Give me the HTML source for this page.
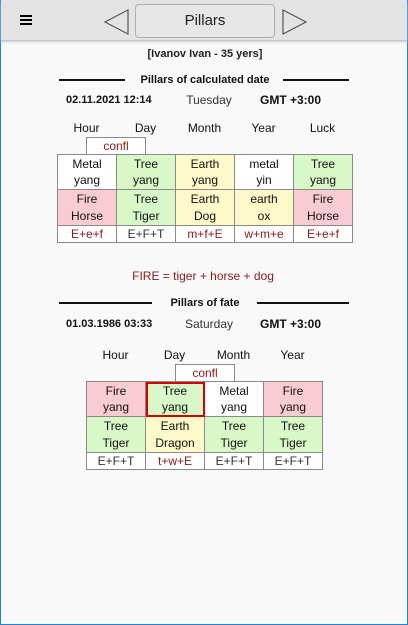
<!DOCTYPE html>
<html><head><meta charset="utf-8">
<style>
*{box-sizing:border-box;margin:0;padding:0}
body{width:408px;height:625px;overflow:hidden;font-family:"Liberation Sans",sans-serif;font-size:12px;color:#111}
#win{position:absolute;left:0;top:0;width:408px;height:625px;border:1px solid #1a84e0;border-top:none;background:#f9f9f9}
#hdr{position:absolute;left:0;top:0;width:406px;height:41px;background:#e3e3e3;border-bottom:1px solid #c6c6c6;box-shadow:0 1px 2px #ccc}
.abs{position:absolute}
.c{position:absolute;text-align:center;white-space:nowrap}
.line{position:absolute;height:2px;background:#111}
table{position:absolute;border-collapse:collapse}
td{border:1px solid #8a8a8a;width:59px;text-align:center;font-size:12px;line-height:16px;padding:0}
.r1 td{height:35px}
.r2 td{height:36px;line-height:17px}
.r3 td{height:17px;line-height:15px;background:#fff}
.w{background:#fff}.g{background:#d8f8c8}.y{background:#fdf9c9}.p{background:#f9ccd4}
.red{color:#8b1a1a}
.confl{position:absolute;width:60px;height:18px;border:1px solid #8a8a8a;border-bottom:none;background:#fff;color:#8b1a1a;text-align:center;line-height:16px}
</style></head><body>
<div id="win">
<div id="hdr">
  <div class="abs" style="left:19px;top:15px;width:12px;height:10px">
    <div style="height:2px;background:#000;margin-bottom:2px"></div><div style="height:2px;background:#000;margin-bottom:2px"></div><div style="height:2px;background:#000"></div>
  </div>
  <svg class="abs" style="left:102px;top:8px" width="28" height="28"><polygon points="25,2 25,26 2,14" fill="none" stroke="#555" stroke-width="1.2"/></svg>
  <div class="abs" style="left:134px;top:4px;width:140px;height:34px;border:1px solid #adadad;border-radius:4px;background:#e6e6e6;text-align:center;line-height:32px;font-size:15px;color:#222">Pillars</div>
  <svg class="abs" style="left:280px;top:8px" width="28" height="28"><polygon points="2,2 2,26 25,14" fill="none" stroke="#555" stroke-width="1.2"/></svg>
</div>

<div class="c" style="left:0;width:408px;top:48px;font-weight:bold;font-size:11px;color:#222">[Ivanov Ivan - 35 yers]</div>

<div class="line" style="left:58px;top:79px;width:66px"></div>
<div class="line" style="left:282px;top:79px;width:66px"></div>
<div class="c" style="left:0;width:408px;top:74px;font-weight:bold;font-size:11px">Pillars of calculated date</div>

<div class="abs" style="left:65px;top:94px;font-weight:bold;font-size:11px">02.11.2021 12:14</div>
<div class="c" style="left:168px;width:80px;top:93px;color:#333">Tuesday</div>
<div class="abs" style="left:259px;top:93px;font-weight:bold;font-size:12px">GMT +3:00</div>

<div class="c" style="left:56px;width:59px;top:121px">Hour</div>
<div class="c" style="left:115px;width:59px;top:121px">Day</div>
<div class="c" style="left:174px;width:59px;top:121px">Month</div>
<div class="c" style="left:233px;width:59px;top:121px">Year</div>
<div class="c" style="left:292px;width:59px;top:121px">Luck</div>
<div class="confl" style="left:85px;top:137px">confl</div>

<table style="left:56px;top:154px">
<tr class="r1"><td class="w">Metal<br>yang</td><td class="g">Tree<br>yang</td><td class="y">Earth<br>yang</td><td class="w">metal<br>yin</td><td class="g">Tree<br>yang</td></tr>
<tr class="r2"><td class="p">Fire<br>Horse</td><td class="g">Tree<br>Tiger</td><td class="y">Earth<br>Dog</td><td class="y">earth<br>ox</td><td class="p">Fire<br>Horse</td></tr>
<tr class="r3"><td class="red">E+e+f</td><td style="color:#333">E+F+T</td><td class="red">m+f+E</td><td class="red">w+m+e</td><td class="red">E+e+f</td></tr>
</table>

<div class="c red" style="left:0;width:404px;top:269px">FIRE = tiger + horse + dog</div>

<div class="line" style="left:58px;top:302px;width:93px"></div>
<div class="line" style="left:256px;top:302px;width:92px"></div>
<div class="c" style="left:0;width:408px;top:297px;font-weight:bold;font-size:11px">Pillars of fate</div>

<div class="abs" style="left:65px;top:318px;font-weight:bold;font-size:11px">01.03.1986 03:33</div>
<div class="c" style="left:168px;width:80px;top:317px;color:#333">Saturday</div>
<div class="abs" style="left:259px;top:317px;font-weight:bold;font-size:12px">GMT +3:00</div>

<div class="c" style="left:85px;width:59px;top:348px">Hour</div>
<div class="c" style="left:144px;width:59px;top:348px">Day</div>
<div class="c" style="left:203px;width:59px;top:348px">Month</div>
<div class="c" style="left:262px;width:59px;top:348px">Year</div>
<div class="confl" style="left:174px;top:364px">confl</div>

<table style="left:85px;top:381px">
<tr class="r1"><td class="p">Fire<br>yang</td><td class="g" style="outline:2px solid #d40000;outline-offset:-2px">Tree<br>yang</td><td class="w">Metal<br>yang</td><td class="p">Fire<br>yang</td></tr>
<tr class="r2"><td class="g">Tree<br>Tiger</td><td class="y">Earth<br>Dragon</td><td class="g">Tree<br>Tiger</td><td class="g">Tree<br>Tiger</td></tr>
<tr class="r3"><td style="color:#333">E+F+T</td><td class="red">t+w+E</td><td style="color:#333">E+F+T</td><td style="color:#333">E+F+T</td></tr>
</table>
</div>
</body></html>
